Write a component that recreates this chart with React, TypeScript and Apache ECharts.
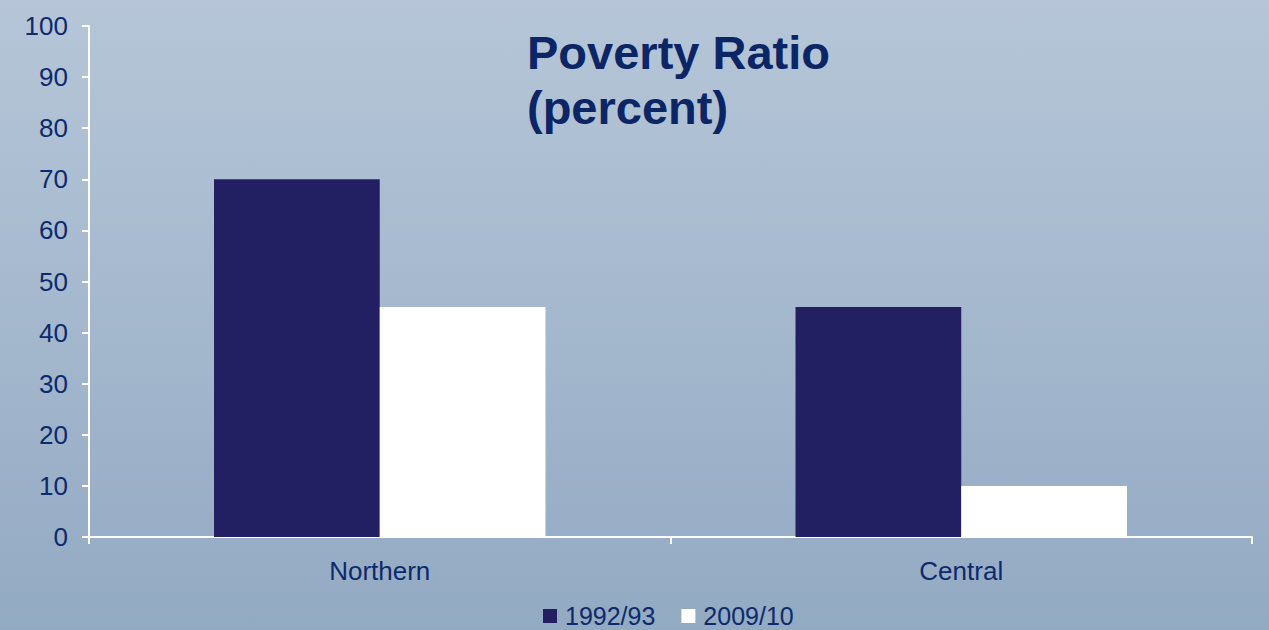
import React, { useEffect, useRef } from "react";
import * as echarts from "echarts";

const categories = ["Northern", "Central"];
const seriesNames = ["1992/93", "2009/10"];
const values1992 = [70, 45];
const values2009 = [45, 10];
const titleLines = ["Poverty Ratio", "(percent)"];

export default function App() {
  const ref = useRef<HTMLDivElement>(null);
  useEffect(() => {
    const chart = echarts.init(ref.current!, null, { renderer: "svg" });
    const textColor = "#0c2a6c";
    chart.setOption({
      animation: false,
      backgroundColor: new echarts.graphic.LinearGradient(0, 0, 0, 1, [
        { offset: 0, color: "#b6c6d8" },
        { offset: 1, color: "#93aac3" },
      ]),
      title: {
        text: titleLines.join("\n"),
        left: 522,
        top: 20,
        textStyle: {
          fontFamily: "Liberation Sans, Arial, sans-serif",
          fontSize: 47,
          fontWeight: "bold",
          color: "#0b2565",
          lineHeight: 55,
        },
      },
      legend: {
        bottom: 1,
        left: 543,
        padding: 0,
        icon: "rect",
        itemWidth: 14,
        itemHeight: 14,
        itemGap: 26,
        textStyle: {
          fontFamily: "Liberation Sans, Arial, sans-serif",
          fontSize: 25,
          lineHeight: 26,
          color: textColor,
          padding: [0, 0, 0, 3],
        },
        data: seriesNames,
      },
      grid: { left: 89, right: 17, top: 26, bottom: 93 },
      xAxis: {
        type: "category",
        data: categories,
        axisLine: { lineStyle: { color: "#ffffff", width: 2 } },
        axisTick: { show: true, length: 7, lineStyle: { color: "#ffffff", width: 2 } },
        axisLabel: {
          margin: 21,
          fontFamily: "Liberation Sans, Arial, sans-serif",
          fontSize: 26,
          color: textColor,
        },
      },
      yAxis: {
        type: "value",
        min: 0,
        max: 100,
        interval: 10,
        splitLine: { show: false },
        axisLine: { show: true, lineStyle: { color: "#ffffff", width: 2 } },
        axisTick: { show: true, length: 7, lineStyle: { color: "#ffffff", width: 2 } },
        axisLabel: {
          margin: 21,
          fontFamily: "Liberation Sans, Arial, sans-serif",
          fontSize: 26,
          color: textColor,
        },
      },
      series: [
        {
          name: seriesNames[0],
          type: "bar",
          data: values1992,
          barWidth: "28.5%",
          barGap: "0%",
          itemStyle: { color: "#221f62" },
        },
        {
          name: seriesNames[1],
          type: "bar",
          data: values2009,
          barWidth: "28.5%",
          barGap: "0%",
          itemStyle: { color: "#ffffff" },
        },
      ],
    });
    return () => chart.dispose();
  }, []);
  return (
    <div
      ref={ref}
      style={{ position: "absolute", left: 0, top: 0, width: 1269, height: 630 }}
    />
  );
}
